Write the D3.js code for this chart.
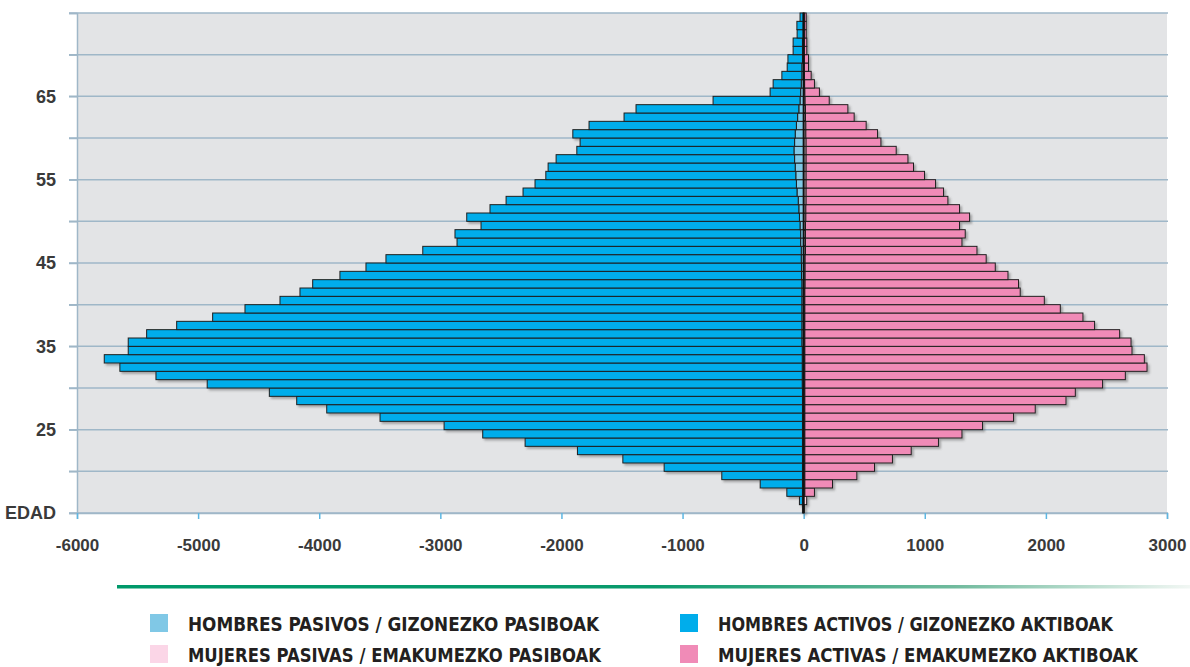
<!DOCTYPE html>
<html>
<head>
<meta charset="utf-8">
<script src="https://cdn.jsdelivr.net/npm/d3@7"></script>
<style>
body { margin: 0; background: #fff; }
.canvas { width: 1190px; height: 667px; }
</style>
</head>
<body>
<div class="canvas"></div>
<script>
// data: one row per age (years), people counts
const ages = [15,16,17,18,19,20,21,22,23,24,25,26,27,28,29,30,31,32,33,34,35,36,37,38,39,40,41,42,43,44,
              45,46,47,48,49,50,51,52,53,54,55,56,57,58,59,60,61,62,63,64,65,66,67,68,69,70,71,72,73,74];

const menActive = [0,25,129,349,666,1142,1483,1858,2290,2640,2959,3488,3928,4176,4402,4913,5336,5634,5763,5565,
                   5562,5410,5162,4865,4598,4309,4144,4039,3811,3596,3429,3125,2837,2854,2634,2747,2550,2412,2262,2158,
                   2064,2040,1969,1793,1771,1836,1712,1433,1344,718,252,232,165,121,120,77,77,49,51,25];

const menPassive = [10,10,10,10,10,10,10,10,10,10,10,10,10,10,10,12,12,12,12,12,
                    15,15,15,15,15,15,15,15,18,18,20,20,25,25,30,35,40,45,55,60,
                    65,70,75,80,75,70,60,50,40,30,25,20,15,15,10,10,10,5,5,5];

const womenActive = [0,0,79,228,429,575,723,878,1103,1297,1467,1723,1902,2156,2233,2458,2646,2825,2803,2701,
                     2693,2599,2392,2296,2109,1977,1778,1762,1675,1570,1495,1416,1292,1319,1272,1352,1269,1171,1135,1069,
                     978,887,841,744,618,592,498,402,350,199,120,81,56,35,35,21,21,16,16,16];

const womenPassive = [5,25,10,10,10,10,10,10,10,10,10,10,10,10,10,10,10,10,10,10,
                      10,10,10,10,10,10,10,12,12,12,12,15,15,15,15,18,18,20,20,20,
                      20,20,20,20,20,18,18,15,15,12,10,8,6,5,5,5,5,5,5,5];

const xTicks = [-6000,-5000,-4000,-3000,-2000,-1000,0,1000,2000,3000];
const yTicks = [15,20,25,30,35,40,45,50,55,60,65,70,75];
const yTickLabels = ['EDAD','','25','','35','','45','','55','','65','',''];

const legendLabels = [
    'HOMBRES PASIVOS / GIZONEZKO PASIBOAK',
    'MUJERES PASIVAS / EMAKUMEZKO PASIBOAK',
    'HOMBRES ACTIVOS / GIZONEZKO AKTIBOAK',
    'MUJERES ACTIVAS / EMAKUMEZKO AKTIBOAK'
];
const legendColors = ['#80c8e6', '#fbd6e7', '#00adeb', '#f08bb7'];

//1. Set dimensions
const width = 1190, height = 667;
const plot = {left: 77, right: 1167, top: 13, bottom: 513};

//2. Create SVG
const canvas = d3.select('.canvas')
    .append('svg')
    .attr('width', width)
    .attr('height', height)
    .style('font-family', 'Lato, "Open Sans", sans-serif');

const defs = canvas.append('defs');
const shadow = defs.append('filter').attr('id', 'shadow')
    .attr('x', '-5%').attr('y', '-20%').attr('width', '110%').attr('height', '160%');
shadow.append('feDropShadow')
    .attr('dx', 2).attr('dy', 2).attr('stdDeviation', 1)
    .attr('flood-color', '#555').attr('flood-opacity', 0.45);

const grad = defs.append('linearGradient').attr('id', 'greenline')
    .attr('x1', '0%').attr('x2', '100%');
grad.append('stop').attr('offset', '0%').attr('stop-color', '#00996a');
grad.append('stop').attr('offset', '50%').attr('stop-color', '#0a9a6c');
grad.append('stop').attr('offset', '78%').attr('stop-color', '#70ba9d');
grad.append('stop').attr('offset', '100%').attr('stop-color', '#f2f7f4');

//3. Scales
const x = d3.scaleLinear().domain([-6000, 3000]).range([plot.left, plot.right]);
const y = d3.scaleLinear().domain([15, 75]).range([plot.bottom, plot.top]);

// plot background
canvas.append('rect')
    .attr('x', plot.left).attr('y', plot.top)
    .attr('width', plot.right - plot.left).attr('height', plot.bottom - plot.top)
    .attr('fill', '#e3e4e6');

// horizontal gridlines
canvas.append('g').selectAll('line').data(yTicks).join('line')
    .attr('x1', plot.left - 8).attr('x2', plot.right + 1)
    .attr('y1', d => y(d)).attr('y2', d => y(d))
    .attr('stroke', '#9fb7c8').attr('stroke-width', 1.5);

// left axis
const yAxis = canvas.append('g')
    .attr('transform', `translate(${plot.left},0)`)
    .call(d3.axisLeft(y).tickValues(yTicks).tickSize(8).tickPadding(13)
        .tickFormat((d, i) => yTickLabels[i]));
yAxis.select('.domain').attr('stroke', '#9fb7c8').attr('stroke-width', 1.5);
yAxis.selectAll('.tick line').attr('stroke', '#9fb7c8').attr('stroke-width', 1.5);
yAxis.selectAll('text')
    .attr('font-size', 18).attr('font-weight', 'bold').attr('fill', '#3a3a3a');

// bottom axis
const xAxis = canvas.append('g')
    .attr('transform', `translate(0,${plot.bottom})`)
    .call(d3.axisBottom(x).tickValues(xTicks).tickSize(6).tickPadding(20)
        .tickFormat(d => String(d)));
xAxis.select('.domain').attr('stroke', '#9fb7c8').attr('stroke-width', 1.5);
xAxis.selectAll('.tick line').attr('stroke', '#5db6e2').attr('stroke-width', 1.5);
xAxis.selectAll('text')
    .attr('font-size', 17).attr('font-weight', 'bold').attr('fill', '#3a3a3a');

//4. Bars
const rows = ages.map((a, i) => ({
    age: a,
    mp: menPassive[i], ma: menActive[i],
    wp: womenPassive[i], wa: womenActive[i]
}));

const bars = canvas.append('g').attr('filter', 'url(#shadow)');
const segs = [];
rows.forEach(d => {
    segs.push({age: d.age, x0: -d.mp, x1: 0, color: legendColors[0]});
    segs.push({age: d.age, x0: -(d.mp + d.ma), x1: -d.mp, color: legendColors[2]});
    segs.push({age: d.age, x0: 0, x1: d.wp, color: legendColors[1]});
    segs.push({age: d.age, x0: d.wp, x1: d.wp + d.wa, color: legendColors[3]});
});
bars.selectAll('rect').data(segs.filter(s => s.x1 > s.x0)).join('rect')
    .attr('x', d => x(d.x0))
    .attr('width', d => x(d.x1) - x(d.x0))
    .attr('y', d => y(d.age + 1))
    .attr('height', d => y(d.age) - y(d.age + 1))
    .attr('fill', d => d.color)
    .attr('stroke', '#1e1e1e')
    .attr('stroke-width', 1);

// zero line
canvas.append('line')
    .attr('x1', x(0)).attr('x2', x(0))
    .attr('y1', y(75)).attr('y2', y(15))
    .attr('stroke', '#111').attr('stroke-width', 2);

//5. Green rule
canvas.append('rect')
    .attr('x', 117).attr('y', 585).attr('width', width - 117).attr('height', 3.5)
    .attr('fill', 'url(#greenline)');

//6. Legend
const legend = canvas.append('g');
const item = legend.selectAll('g').data(legendLabels).join('g')
    .attr('transform', (d, i) => `translate(${i < 2 ? 150 : 680},${i % 2 === 0 ? 614 : 645})`);
item.append('rect')
    .attr('width', 18).attr('height', 18)
    .attr('fill', (d, i) => legendColors[i]);
item.append('text')
    .attr('x', 38).attr('y', 17)
    .attr('font-family', '"Liberation Sans Narrow", "DejaVu Sans Condensed", sans-serif')
    .attr('font-weight', 'bold')
    .attr('font-size', 19)
    .attr('fill', '#231f20')
    .attr('textLength', (d, i) => [411, 413, 395, 420][i])
    .attr('lengthAdjust', 'spacingAndGlyphs')
    .text(d => d);
</script>
</body>
</html>
